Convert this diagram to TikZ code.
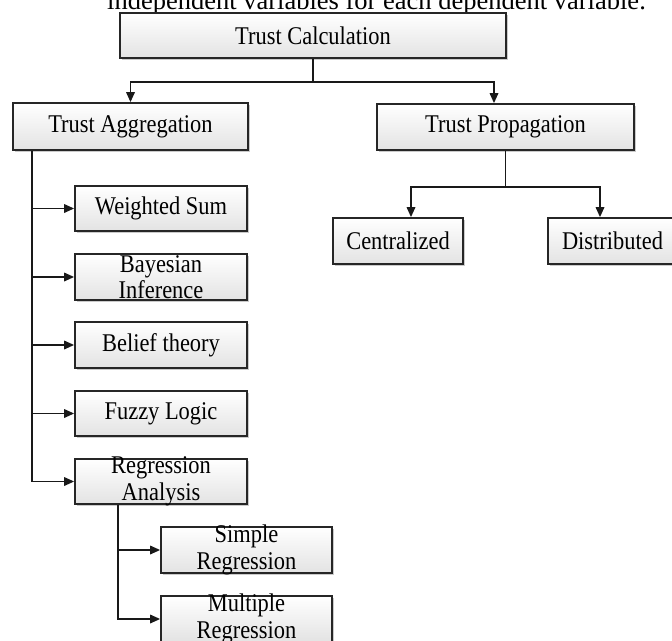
\documentclass[tikz,border=0pt]{standalone}
\usepackage{fontspec}
\setmainfont[FakeStretch=0.88]{Liberation Serif}
\newfontfamily\headfont{Liberation Serif}
\usetikzlibrary{arrows.meta,shadows}
\begin{document}
\begin{tikzpicture}[x=1pt,y=-1pt,
  box/.style={rectangle, draw=black!85, line width=1.7pt, inner sep=0pt,
    top color=white, bottom color=black!11,
    font=\fontsize{25.5}{27}\selectfont,
    drop shadow={shadow xshift=1.6pt, shadow yshift=-1.6pt, opacity=0.35, fill=black!60}},
  wide/.style={minimum width=172pt, minimum height=45pt},
  link/.style={line width=1.7pt, draw=black!90},
  arr/.style={link, -{Triangle[length=10pt,width=8.5pt]}},
  boxlabel/.style={font=\fontsize{25.5}{26.5}\selectfont, align=center, inner sep=0pt}
]
\path[use as bounding box, clip] (0,0) rectangle (672,640);

% line of running text above the chart
\node[font=\headfont\fontsize{26.5}{30}\selectfont, anchor=base, inner sep=0pt]
  (note) at (376.5,9) {independent variables for each dependent variable.};

% top level
\node[box, minimum width=386pt, minimum height=45pt] (calc) at (313,35.5) {Trust Calculation};

% second level
\node[box, minimum width=235pt, minimum height=47pt] (agg) at (130.5,126.5) {Trust Aggregation};
\node[box, minimum width=257pt, minimum height=46pt] (prop) at (505.5,127) {Trust Propagation};

% propagation branches
\node[box, minimum width=130pt, minimum height=46pt] (cent) at (398,241) {Centralized};
\node[box, minimum width=129pt, minimum height=46pt] (dist) at (612.5,241) {Distributed};

% aggregation methods
\node[box, wide] (ws) at (161,208.5) {Weighted Sum};
\node[box, wide, minimum height=46pt,
  label={[boxlabel]center:Bayesian\\Inference}] (bayes) at (161,277) {};
\node[box, wide, minimum height=46pt] (belief) at (161,345) {Belief theory};
\node[box, wide] (fuzzy) at (161,413.5) {Fuzzy Logic};
\node[box, wide,
  label={[boxlabel]center:Regression\\Analysis}] (regan) at (161,481.5) {};

% regression types
\node[box, minimum width=171pt, minimum height=46pt,
  label={[boxlabel]center:Simple\\Regression}] (simple) at (246.5,550) {};
\node[box, minimum width=171pt, minimum height=46pt,
  label={[boxlabel]center:Multiple\\Regression}] (multi) at (246.5,619) {};

% connectors from the top box
\draw[arr] (calc.south) -- ++(0,23) -| (agg.north);
\draw[arr] (calc.south) -- ++(0,23) -| ([xshift=-11.5pt]prop.north);

% connectors of the propagation branch
\draw[arr] (prop.south) -- ++(0,36) -| ([xshift=13pt]cent.north);
\draw[arr] (prop.south) -- ++(0,36) -| ([xshift=-12.5pt]dist.north);

% trunk of the aggregation branch
\coordinate (trunk) at ([xshift=-98.5pt]agg.south);
\draw[arr] (trunk) |- (regan.west);
\foreach \m in {ws,bayes,belief,fuzzy}
  \draw[arr] (trunk |- \m.west) -- (\m.west);

% trunk of the regression branch
\coordinate (rtrunk) at ([xshift=-43pt]regan.south);
\draw[arr] (rtrunk) |- (multi.west);
\draw[arr] (rtrunk |- simple.west) -- (simple.west);
\end{tikzpicture}
\end{document}
